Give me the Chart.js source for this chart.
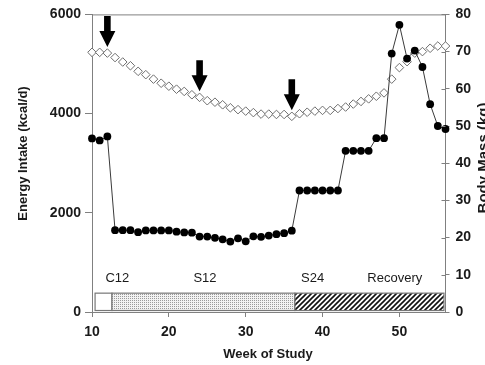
<!DOCTYPE html>
<html>
<head>
<meta charset="utf-8">
<script src="https://cdn.jsdelivr.net/npm/chart.js@4.4.0/dist/chart.umd.min.js"></script>
<style>
  body { margin: 0; background: #fff; overflow: hidden; }
  canvas { display: block; }
</style>
</head>
<body>
<canvas id="chart" width="485" height="365"></canvas>
<script>
// weeks of study
const weeks = [10, 11, 12, 13, 14, 15, 16, 17, 18, 19, 20, 21, 22, 23, 24, 25, 26, 27, 28, 29, 30, 31, 32, 33,
  34, 35, 36, 37, 38, 39, 40, 41, 42, 43, 44, 45, 46, 47, 48, 49, 50, 51, 52, 53, 54, 55, 56];
// energy intake, kcal/d (filled circles)
const energyIntake = [3500, 3460, 3540, 1650, 1650, 1650, 1610, 1645, 1645, 1645, 1645, 1620, 1605, 1600, 1520, 1520,
  1495, 1465, 1420, 1485, 1425, 1525, 1515, 1540, 1570, 1590, 1640, 2450, 2450, 2450, 2450, 2450, 2450, 3250, 3250,
  3250, 3250, 3505, 3505, 5210, 5790, 5110, 5270, 4940, 4190, 3750, 3690];
// body mass, kg (open diamonds)
const bodyMass = [69.8, 69.8, 69.6, 68.4, 67.2, 66.2, 64.7, 63.8, 62.6, 61.5, 60.7, 59.9, 59.3, 58.4, 57.7, 56.8,
  56.4, 55.7, 54.9, 54.4, 54.0, 53.6, 53.2, 53.2, 53.1, 53.1, 52.6, 53.3, 53.7, 54.0, 54.2, 54.2, 54.7, 55.1, 55.9,
  56.6, 57.3, 58.0, 58.9, 62.6, 65.7, 67.3, 69.6, 70.0, 70.9, 71.5, 71.5];

const xTicks = [10, 20, 30, 40, 50];
const arrowWeeks = [12, 24, 36];

// phase bar along the bottom
const phaseNames = ['C12', 'S12', 'S24', 'Recovery'];
const phaseLabelWeeks = [13.3, 24.7, 38.7, 49.4];
const phaseLabelLevel = 680;
const phaseStart = [10.4, 12.6, 36.4];
const phaseEnd = [12.6, 36.4, 55.8];
const phaseFill = ['white', 'dots', 'hatch'];
const phaseBarLow = 30;
const phaseBarHigh = 380;

const axisGrey = '#808080';
const textColor = '#1a1a1a';
const tickFont = { family: 'Liberation Sans, Arial, sans-serif', size: 14, weight: 'bold' };

function makePattern(kind) {
  const c = document.createElement('canvas');
  const p = c.getContext('2d');
  if (kind === 'dots') {
    c.width = 2; c.height = 2;
    p.fillStyle = '#f2f2f2';
    p.fillRect(0, 0, 2, 2);
    p.fillStyle = '#9a9a9a';
    p.fillRect(0, 0, 1, 1);
  } else {
    c.width = 5; c.height = 5;
    p.fillStyle = '#fff';
    p.fillRect(0, 0, 5, 5);
    p.strokeStyle = '#111';
    p.lineWidth = 1.6;
    p.beginPath();
    p.moveTo(-1, 6); p.lineTo(6, -1);
    p.moveTo(-1, 1); p.lineTo(1, -1);
    p.moveTo(4, 6); p.lineTo(6, 4);
    p.stroke();
  }
  return p.createPattern(c, 'repeat');
}

const decorations = {
  id: 'decorations',
  beforeDatasetsDraw(chart) {
    const { ctx, scales: { x, y } } = chart;
    ctx.save();
    // phase bar
    const top = y.getPixelForValue(phaseBarHigh);
    const bottom = y.getPixelForValue(phaseBarLow);
    phaseStart.forEach((s, i) => {
      const x0 = x.getPixelForValue(s);
      const x1 = x.getPixelForValue(phaseEnd[i]);
      ctx.fillStyle = phaseFill[i] === 'white' ? '#fff' : makePattern(phaseFill[i]);
      ctx.fillRect(x0, top, x1 - x0, bottom - top);
      ctx.strokeStyle = '#777';
      ctx.lineWidth = 1.2;
      ctx.strokeRect(x0, top, x1 - x0, bottom - top);
    });
    // phase names
    ctx.fillStyle = textColor;
    ctx.font = '13px Liberation Sans, Arial, sans-serif';
    ctx.textAlign = 'center';
    ctx.textBaseline = 'middle';
    phaseNames.forEach((n, i) => {
      ctx.fillText(n, x.getPixelForValue(phaseLabelWeeks[i]), y.getPixelForValue(phaseLabelLevel));
    });
    ctx.restore();
  },
  afterDraw(chart) {
    const { ctx, chartArea: a, scales: { x, y1 } } = chart;
    ctx.save();
    // frame top line
    ctx.strokeStyle = axisGrey;
    ctx.lineWidth = 1;
    ctx.beginPath();
    ctx.moveTo(a.left, a.top + 0.5);
    ctx.lineTo(a.right, a.top + 0.5);
    // inner halves of the right axis ticks
    y1.ticks.forEach(t => {
      const py = Math.round(y1.getPixelForValue(t.value)) + 0.5;
      ctx.moveTo(a.right - 4, py);
      ctx.lineTo(a.right, py);
    });
    ctx.stroke();

    // arrows pointing at the body mass curve
    ctx.fillStyle = '#000';
    arrowWeeks.forEach(w => {
      const i = weeks.indexOf(w);
      const cx = x.getPixelForValue(w);
      const tip = y1.getPixelForValue(bodyMass[i]) - 6;
      const headTop = tip - 16;
      const tail = tip - 31;
      ctx.beginPath();
      ctx.moveTo(cx - 3.3, tail);
      ctx.lineTo(cx + 3.3, tail);
      ctx.lineTo(cx + 3.3, headTop);
      ctx.lineTo(cx + 8, headTop);
      ctx.lineTo(cx, tip);
      ctx.lineTo(cx - 8, headTop);
      ctx.lineTo(cx - 3.3, headTop);
      ctx.closePath();
      ctx.fill();
    });

    // axis titles
    ctx.fillStyle = textColor;
    ctx.textAlign = 'center';
    ctx.textBaseline = 'middle';
    ctx.font = 'bold 13px Liberation Sans, Arial, sans-serif';
    ctx.fillText('Week of Study', 268, 354);
    ctx.save();
    ctx.translate(23, 153.5);
    ctx.rotate(-Math.PI / 2);
    ctx.fillText('Energy Intake (kcal/d)', 0, 0);
    ctx.restore();
    ctx.save();
    ctx.translate(484, 158);
    ctx.rotate(-Math.PI / 2);
    ctx.font = 'bold 15px Liberation Sans, Arial, sans-serif';
    ctx.fillText('Body Mass (kg)', 0, 0);
    ctx.restore();
    ctx.restore();
  }
};

new Chart(document.getElementById('chart'), {
  type: 'line',
  data: {
    datasets: [
      {
        label: 'Energy Intake',
        data: weeks.map((w, i) => ({ x: w, y: energyIntake[i] })),
        yAxisID: 'y',
        borderColor: '#3a3a3a',
        borderWidth: 1,
        pointRadius: 3.9,
        pointBackgroundColor: '#000',
        pointBorderColor: '#000',
        pointBorderWidth: 0,
        tension: 0,
        clip: false
      },
      {
        label: 'Body Mass',
        data: weeks.map((w, i) => ({ x: w, y: bodyMass[i] })),
        yAxisID: 'y1',
        showLine: false,
        pointStyle: 'rectRot',
        pointRadius: 4.3,
        pointBackgroundColor: '#fff',
        pointBorderColor: '#6e6e6e',
        pointBorderWidth: 1,
        clip: false
      }
    ]
  },
  options: {
    responsive: false,
    animation: false,
    layout: { padding: { left: 0, right: 0, top: 11, bottom: 0 } },
    plugins: { legend: { display: false }, tooltip: { enabled: false } },
    scales: {
      x: {
        type: 'linear',
        min: 10,
        max: 56,
        afterBuildTicks: s => { s.ticks = xTicks.map(v => ({ value: v })); },
        afterFit: s => { s.height = 53; },
        grid: { drawOnChartArea: false, tickLength: 5, color: axisGrey },
        border: { color: axisGrey },
        ticks: { font: tickFont, color: textColor, padding: 7, maxRotation: 0, callback: v => String(v) }
      },
      y: {
        min: 0,
        max: 6000,
        afterFit: s => { s.width = 92; },
        grid: { drawOnChartArea: false, tickLength: 7, color: axisGrey },
        border: { color: axisGrey },
        ticks: { stepSize: 2000, font: tickFont, color: textColor, padding: 4, callback: v => String(v) }
      },
      y1: {
        position: 'right',
        min: 0,
        max: 80,
        afterFit: s => { s.width = 39.5; },
        grid: { drawOnChartArea: false, tickLength: 4, color: axisGrey },
        border: { color: axisGrey },
        ticks: { stepSize: 10, font: tickFont, color: textColor, padding: 6, callback: v => String(v) }
      }
    }
  },
  plugins: [decorations]
});
</script>
</body>
</html>
